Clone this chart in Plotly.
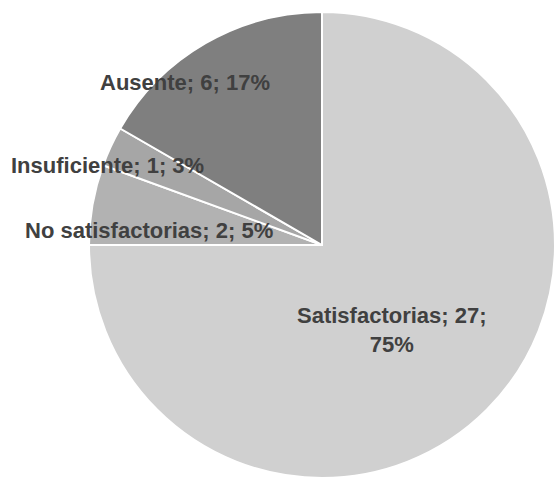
import plotly.graph_objects as go

labels = ["Satisfactorias", "No satisfactorias", "Insuficiente", "Ausente"]
values = [27, 2, 1, 6]
pct_labels = [75, 5, 3, 17]
colors = ["#d0d0d0", "#b2b2b2", "#a6a6a6", "#7f7f7f"]

W, H = 555, 479

# label positions (pixels)
label_pos = {
    "Satisfactorias": (392, 330),
    "Ausente": (185, 83),
    "Insuficiente": (107, 165),
    "No satisfactorias": (149, 231),
}

font_main = dict(family="Liberation Sans, Arial, sans-serif", size=22, color="#404040")

fig = go.Figure(go.Pie(
    labels=labels,
    values=values,
    sort=False,
    direction="clockwise",
    rotation=0,
    marker=dict(colors=colors, line=dict(color="white", width=2)),
    textinfo="none",
    showlegend=False,
    hoverinfo="label+value+percent",
    domain=dict(x=[(322 - 233) / W, 1.0], y=[1 / H, (H - 12) / H]),
))

for lab, val, pct in zip(labels, values, pct_labels):
    px, py = label_pos[lab]
    if lab == "Satisfactorias":
        txt = f"<b>{lab}; {val};<br>{pct}%</b>"
    else:
        txt = f"<b>{lab}; {val}; {pct}%</b>"
    fig.add_annotation(
        x=px / W, y=1 - py / H, xref="paper", yref="paper",
        text=txt, showarrow=False, font=font_main,
        xanchor="center", yanchor="middle", align="center",
    )

fig.update_layout(
    width=W, height=H,
    margin=dict(l=0, r=0, t=0, b=0),
    paper_bgcolor="white",
    plot_bgcolor="white",
)

fig.write_html("out.html")
